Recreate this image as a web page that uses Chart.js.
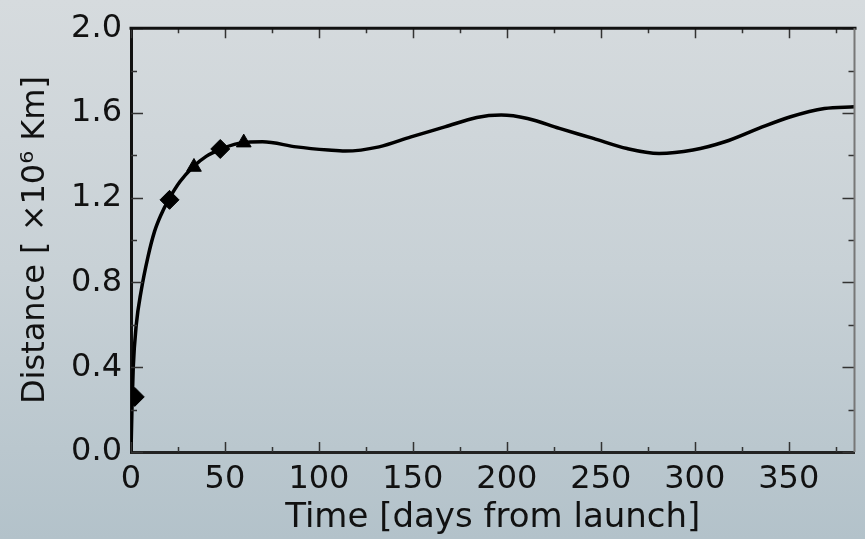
<!DOCTYPE html>
<html>
<head>
<meta charset="utf-8">
<script src="https://cdn.jsdelivr.net/npm/chart.js@4"></script>
<style>
  html, body { margin: 0; padding: 0; }
  body {
    width: 865px; height: 539px; overflow: hidden;
    background: linear-gradient(to bottom, #d6dbde 0%, #c8d1d6 50%, #b3c2ca 100%);
  }
  canvas { display: block; }
</style>
</head>
<body>
<canvas id="distChart" width="865" height="539"></canvas>
<script>
// courbe de distance (jours depuis le lancement, distance en 10^6 km)
const curveDays = [0, 0.5, 1.2, 2.8, 5.4, 9, 12.5, 16, 20, 26, 33, 40, 48, 55, 62, 70, 88, 105, 114, 132, 149, 167, 184, 197, 211, 228, 246, 264, 281, 299, 316, 334, 351, 369, 385];
const curveDist = [0.0, 0.2, 0.4, 0.6, 0.76, 0.92, 1.04, 1.12, 1.19, 1.275, 1.345, 1.395, 1.43, 1.452, 1.462, 1.464, 1.44, 1.425, 1.42, 1.44, 1.487, 1.534, 1.579, 1.59, 1.574, 1.527, 1.48, 1.432, 1.409, 1.425, 1.464, 1.527, 1.582, 1.621, 1.629];

// points mesurés
const diamondDays = [2, 20.5, 47.5];
const diamondDist = [0.26, 1.19, 1.43];
const triangleDays = [33.5, 60];
const triangleDist = [1.345, 1.46];

const xTicks = [0, 50, 100, 150, 200, 250, 300, 350];
const yTicks = [0.0, 0.4, 0.8, 1.2, 1.6, 2.0];

const FONT = "'DejaVu Sans', sans-serif";

function toPoints(xs, ys) {
    return xs.map((x, i) => ({ x: x, y: ys[i] }));
}

// ticks vers l'intérieur + cadre haut/droite, style matplotlib
const frameTicks = {
    id: 'frameTicks',
    afterDraw(chart) {
        const ctx = chart.ctx;
        const area = chart.chartArea;
        const xs = chart.scales.x;
        const ys = chart.scales.y;
        ctx.save();
        ctx.strokeStyle = '#333';
        ctx.lineWidth = 1.5;
        for (let v = 0; v <= xs.max; v += 25) {
            const px = Math.round(xs.getPixelForValue(v)) + 0.5;
            const len = v % 50 === 0 ? 10 : 5;
            ctx.beginPath();
            ctx.moveTo(px, area.bottom);
            ctx.lineTo(px, area.bottom - len);
            ctx.moveTo(px, area.top);
            ctx.lineTo(px, area.top + len);
            ctx.stroke();
        }
        for (let i = 0; i <= 10; i++) {
            const v = i * 0.2;
            const py = Math.round(ys.getPixelForValue(v)) + 0.5;
            const len = i % 2 === 0 ? 12 : 6;
            ctx.beginPath();
            ctx.moveTo(area.left, py);
            ctx.lineTo(area.left + len, py);
            ctx.moveTo(area.right, py);
            ctx.lineTo(area.right - len, py);
            ctx.stroke();
        }
        // cadre
        ctx.strokeStyle = '#111';
        ctx.lineWidth = 3;
        ctx.beginPath();
        ctx.moveTo(area.left - 1.5, area.top);
        ctx.lineTo(area.right + 2, area.top);
        ctx.stroke();
        ctx.strokeStyle = '#777';
        ctx.lineWidth = 2;
        ctx.beginPath();
        ctx.moveTo(area.right, area.top);
        ctx.lineTo(area.right, area.bottom);
        ctx.stroke();
        ctx.restore();
    }
};

const ctx = document.getElementById('distChart').getContext('2d');
new Chart(ctx, {
    type: 'scatter',
    data: {
        datasets: [
            {
                data: toPoints(curveDays, curveDist),
                showLine: true,
                borderColor: '#000',
                borderWidth: 3.5,
                pointRadius: 0,
                cubicInterpolationMode: 'monotone',
                order: 2
            },
            {
                data: toPoints(diamondDays, diamondDist),
                pointStyle: 'rectRot',
                pointRadius: 9.5,
                backgroundColor: '#000',
                borderColor: '#000',
                order: 1
            },
            {
                data: toPoints(triangleDays, triangleDist),
                pointStyle: 'triangle',
                pointRadius: 8.5,
                backgroundColor: '#000',
                borderColor: '#000',
                order: 1
            }
        ]
    },
    options: {
        responsive: false,
        animation: false,
        layout: { padding: { top: 28, right: 1, left: 0, bottom: 0 } },
        plugins: {
            legend: { display: false },
            tooltip: { enabled: false }
        },
        scales: {
            x: {
                type: 'linear',
                min: 0,
                max: 385,
                afterBuildTicks: scale => { scale.ticks = xTicks.map(v => ({ value: v })); },
                afterFit: scale => { scale.height = 87; },
                ticks: {
                    font: { family: FONT, size: 32 },
                    color: '#111',
                    padding: 8,
                    maxRotation: 0,
                    autoSkip: false
                },
                grid: { display: false, drawTicks: false },
                border: { display: true, color: '#222', width: 3 },
                title: {
                    display: true,
                    text: 'Time [days from launch]',
                    font: { family: FONT, size: 34, lineHeight: 1.2 },
                    color: '#111',
                    padding: { top: 0, bottom: 0 }
                }
            },
            y: {
                min: 0,
                max: 2,
                afterBuildTicks: scale => { scale.ticks = yTicks.map(v => ({ value: v })); },
                afterFit: scale => { scale.width = 131; },
                ticks: {
                    font: { family: FONT, size: 32 },
                    color: '#111',
                    padding: 9,
                    callback: v => Number(v).toFixed(1)
                },
                grid: { display: false, drawTicks: false },
                border: { display: true, color: '#111', width: 3 },
                title: {
                    display: true,
                    text: 'Distance [ ×10⁶ Km]',
                    font: { family: FONT, size: 32, lineHeight: 1.2 },
                    color: '#111',
                    padding: { top: 16, bottom: 0 }
                }
            }
        }
    },
    plugins: [frameTicks]
});
</script>
</body>
</html>
